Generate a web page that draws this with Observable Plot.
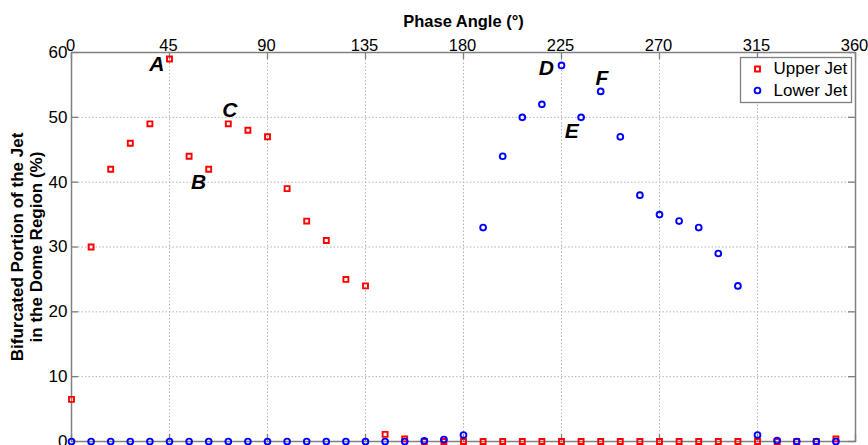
<!DOCTYPE html>
<html>
<head>
<meta charset="utf-8">
<script src="https://cdn.jsdelivr.net/npm/d3@7"></script>
<script src="https://cdn.jsdelivr.net/npm/@observablehq/plot@0.6"></script>
<style>
  html, body { margin: 0; padding: 0; background: #fff; }
  #chart { width: 868px; height: 445px; overflow: hidden; }
</style>
</head>
<body>
<div id="chart"></div>
<script>
// ---- Data ----
const angles = [0, 9, 18, 27, 36, 45, 54, 63, 72, 81, 90, 99, 108, 117, 126, 135, 144, 153, 162, 171,
                180, 189, 198, 207, 216, 225, 234, 243, 252, 261, 270, 279, 288, 297, 306, 315, 324, 333, 342, 351];
const upperJet = [6.5, 30, 42, 46, 49, 59, 44, 42, 49, 48, 47, 39, 34, 31, 25, 24, 1.1, 0.4, 0, 0,
                  0, 0, 0, 0, 0, 0, 0, 0, 0, 0, 0, 0, 0, 0, 0, 0, 0, 0, 0, 0.4];
const lowerJet = [0, 0, 0, 0, 0, 0, 0, 0, 0, 0, 0, 0, 0, 0, 0, 0, 0, 0, 0.1, 0.3,
                  1, 33, 44, 50, 52, 58, 50, 54, 47, 38, 35, 34, 33, 29, 24, 1, 0.15, 0, 0, 0];
const seriesNames = ["Upper Jet", "Lower Jet"];
const seriesColors = ["#ff0000", "#0000ff"];
const seriesSymbols = ["square", "circle"];
const xTicks = [0, 45, 90, 135, 180, 225, 270, 315, 360];
const yTicks = [0, 10, 20, 30, 40, 50, 60];
const pointLabels = ["A", "B", "C", "D", "E", "F"];
const labelAngles = [39.2, 58.4, 72.7, 218, 229.7, 243.5];
const labelValues = [58.2, 40, 51.1, 57.5, 47.9, 56];
const xTitle = "Phase Angle (°)";
const yTitle = "Bifurcated Portion of the Jet\nin the Dome Region (%)";

// ---- Tables built from the arrays ----
const upperRows = angles.map((a, i) => ({angle: a, value: upperJet[i]}));
const lowerRows = angles.map((a, i) => ({angle: a, value: lowerJet[i]}));
const labelRows = pointLabels.map((l, i) => ({label: l, angle: labelAngles[i], value: labelValues[i]}));

const W = 868, H = 445, mL = 71, mR = 13, mT = 52, mB = 4;
const frameW = W - mL - mR, frameH = H - mT - mB;
const axisGray = "#808080";
const tickLen = 7;
const font = "'Liberation Sans', Arial, Helvetica, sans-serif";

const chart = Plot.plot({
  width: W, height: H,
  marginLeft: mL, marginRight: mR, marginTop: mT, marginBottom: mB,
  x: {domain: [0, 360]},
  y: {domain: [0, 60]},
  style: {fontFamily: font, fontSize: "17px", color: "#000", background: "#fff", overflow: "visible"},
  marks: [
    Plot.gridX(xTicks.slice(1, -1), {stroke: "#b4b4b4", strokeOpacity: 1, strokeWidth: 1, strokeDasharray: "1.5,2"}),
    Plot.gridY(yTicks.slice(1, -1), {stroke: "#b4b4b4", strokeOpacity: 1, strokeWidth: 1, strokeDasharray: "1.5,2"}),
    Plot.frame({stroke: axisGray, strokeWidth: 1.5}),
    // inward tick marks
    Plot.tickX(xTicks, {x: d => d, stroke: axisGray, strokeWidth: 1.3, insetBottom: frameH - tickLen}),
    Plot.tickX(xTicks, {x: d => d, stroke: axisGray, strokeWidth: 1.3, insetTop: frameH - tickLen}),
    Plot.tickY(yTicks, {y: d => d, stroke: axisGray, strokeWidth: 1.3, insetRight: frameW - tickLen}),
    Plot.tickY(yTicks, {y: d => d, stroke: axisGray, strokeWidth: 1.3, insetLeft: frameW - tickLen}),
    Plot.axisX(xTicks, {anchor: "top", tickSize: 0, tickPadding: 2, label: null, fontSize: 16.5, dx: -1}),
    Plot.axisY(yTicks, {anchor: "left", tickSize: 0, tickPadding: 4, label: null, fontSize: 17}),
    // axis titles
    Plot.text([xTitle], {frameAnchor: "top", dy: -31, text: d => d, fontSize: 16.5, fontWeight: "bold",
                         lineAnchor: "middle", fill: "#000"}),
    Plot.text([yTitle], {frameAnchor: "left", dx: -45, rotate: -90, text: d => d, fontSize: 17, fontWeight: "bold",
                         lineHeight: 1.12, textAnchor: "middle", lineAnchor: "middle", fill: "#000"}),
    // data
    Plot.dot(upperRows, {x: "angle", y: "value", symbol: seriesSymbols[0], r: 2.8, stroke: seriesColors[0], strokeWidth: 1.9, fill: "none"}),
    Plot.dot(lowerRows, {x: "angle", y: "value", symbol: seriesSymbols[1], r: 2.9, stroke: seriesColors[1], strokeWidth: 1.9, fill: "none"}),
    // point annotations
    Plot.text(labelRows, {x: "angle", y: "value", text: "label", fontSize: 21, fontWeight: "bold", fontStyle: "italic", fill: "#000"}),
    // legend
    Plot.frame({fill: "#fff", stroke: axisGray, strokeWidth: 1.3, insetLeft: 669, insetRight: 4, insetTop: 5, insetBottom: 339}),
    Plot.dot([seriesNames[0]], {frameAnchor: "top-left", dx: 686, dy: 16.5, symbol: seriesSymbols[0], r: 2.8, stroke: seriesColors[0], strokeWidth: 1.9, fill: "none"}),
    Plot.dot([seriesNames[1]], {frameAnchor: "top-left", dx: 686, dy: 38, symbol: seriesSymbols[1], r: 2.9, stroke: seriesColors[1], strokeWidth: 1.9, fill: "none"}),
    Plot.text([seriesNames[0]], {frameAnchor: "top-left", dx: 702, dy: 16.5, text: d => d, textAnchor: "start", lineAnchor: "middle", fontSize: 17, fill: "#000"}),
    Plot.text([seriesNames[1]], {frameAnchor: "top-left", dx: 702, dy: 38, text: d => d, textAnchor: "start", lineAnchor: "middle", fontSize: 17, fill: "#000"})
  ]
});
document.getElementById("chart").appendChild(chart);
</script>
</body>
</html>
